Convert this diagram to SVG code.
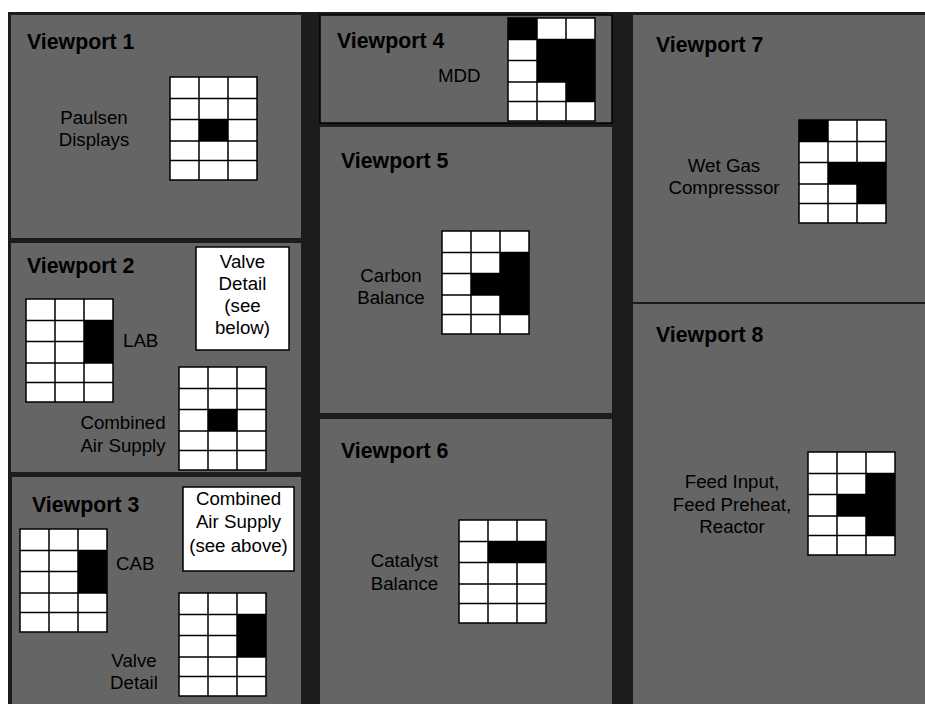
<svg xmlns="http://www.w3.org/2000/svg" xmlns:xlink="http://www.w3.org/1999/xlink" width="925" height="704" viewBox="0 0 925 704">
<style>
.vp{fill:#656565;}
.vp4{fill:#656565;stroke:#000;stroke-width:1.5;}
.t{font-family:"Liberation Sans",Arial,sans-serif;font-size:21.3px;font-weight:bold;fill:#000;}
.b{font-family:"Liberation Sans",Arial,sans-serif;font-size:18.7px;fill:#000;}
.c{text-anchor:middle;}
.cell{fill:#fff;}
.blk{fill:#000;}
.gl{fill:none;stroke:#000;stroke-width:1.5;}
.box{fill:#fff;stroke:#000;stroke-width:1.5;}
</style>
<defs>
<g id="gl">
<rect class="gl" x="0" y="0" width="87" height="103"/>
<path class="gl" d="M29,0V103M58,0V103M0,21.5H87M0,42.5H87M0,64H87M0,83.5H87"/>
</g>
</defs>
<rect x="0" y="0" width="925" height="704" fill="#fff"/>
<rect x="8" y="12" width="917" height="692" fill="#1c1c1c"/>

<g id="viewport1">
<rect class="vp" x="11" y="15" width="290" height="223"/>
<text class="t" x="27" y="49">Viewport 1</text>
<text class="b c" x="94" y="124">Paulsen</text>
<text class="b c" x="94" y="146">Displays</text>
<g transform="translate(170,77)">
<rect class="cell" width="87" height="103"/>
<rect class="blk" x="29" y="42.5" width="29" height="21.5"/>
<use xlink:href="#gl"/>
</g>
</g>

<g id="viewport2">
<rect class="vp" x="11" y="243" width="290" height="229"/>
<text class="t" x="27" y="273">Viewport 2</text>
<rect class="box" x="196" y="247" width="93" height="103"/>
<text class="b c" x="242.5" y="268">Valve</text>
<text class="b c" x="242.5" y="290">Detail</text>
<text class="b c" x="242.5" y="312">(see</text>
<text class="b c" x="242.5" y="334">below)</text>
<g transform="translate(26,299)">
<rect class="cell" width="87" height="103"/>
<rect class="blk" x="58" y="21.5" width="29" height="42.5"/>
<use xlink:href="#gl"/>
</g>
<text class="b" x="123" y="347">LAB</text>
<g transform="translate(179,367)">
<rect class="cell" width="87" height="103"/>
<rect class="blk" x="29" y="42.5" width="29" height="21.5"/>
<use xlink:href="#gl"/>
</g>
<text class="b c" x="123" y="429">Combined</text>
<text class="b c" x="123" y="452">Air Supply</text>
</g>

<g id="viewport3">
<rect class="vp" x="12" y="477" width="289" height="227"/>
<text class="t" x="32" y="512">Viewport 3</text>
<rect class="box" x="183" y="487" width="111" height="84"/>
<text class="b c" x="238.5" y="505">Combined</text>
<text class="b c" x="238.5" y="528">Air Supply</text>
<text class="b c" x="238.5" y="552">(see above)</text>
<g transform="translate(20,529)">
<rect class="cell" width="87" height="103"/>
<rect class="blk" x="58" y="21.5" width="29" height="42.5"/>
<use xlink:href="#gl"/>
</g>
<text class="b" x="116" y="570">CAB</text>
<g transform="translate(179,593)">
<rect class="cell" width="87" height="103"/>
<rect class="blk" x="58" y="21.5" width="29" height="42.5"/>
<use xlink:href="#gl"/>
</g>
<text class="b c" x="134" y="667">Valve</text>
<text class="b c" x="134" y="689">Detail</text>
</g>

<g id="viewport4">
<rect class="vp4" x="320" y="15" width="292" height="108"/>
<text class="t" x="337" y="48">Viewport 4</text>
<text class="b" x="438" y="82">MDD</text>
<g transform="translate(508,18)">
<rect class="cell" width="87" height="103"/>
<rect class="blk" x="0" y="0" width="29" height="21.5"/>
<rect class="blk" x="29" y="21.5" width="58" height="42.5"/>
<rect class="blk" x="58" y="64" width="29" height="19.5"/>
<use xlink:href="#gl"/>
</g>
</g>

<g id="viewport5">
<rect class="vp" x="320" y="127" width="292" height="286"/>
<text class="t" x="341" y="168">Viewport 5</text>
<text class="b c" x="391" y="282">Carbon</text>
<text class="b c" x="391" y="304">Balance</text>
<g transform="translate(442,231)">
<rect class="cell" width="87" height="103"/>
<rect class="blk" x="58" y="21.5" width="29" height="62"/>
<rect class="blk" x="29" y="42.5" width="29" height="21.5"/>
<use xlink:href="#gl"/>
</g>
</g>

<g id="viewport6">
<rect class="vp" x="320" y="419" width="292" height="285"/>
<text class="t" x="341" y="458">Viewport 6</text>
<text class="b c" x="404.5" y="567">Catalyst</text>
<text class="b c" x="404.5" y="590">Balance</text>
<g transform="translate(459,520)">
<rect class="cell" width="87" height="103"/>
<rect class="blk" x="29" y="21.5" width="58" height="21"/>
<use xlink:href="#gl"/>
</g>
</g>

<g id="viewport7">
<rect class="vp" x="633" y="15" width="292" height="287"/>
<text class="t" x="656" y="52">Viewport 7</text>
<text class="b c" x="724" y="172">Wet Gas</text>
<text class="b c" x="724" y="194">Compresssor</text>
<g transform="translate(799,120)">
<rect class="cell" width="87" height="103"/>
<rect class="blk" x="0" y="0" width="29" height="21.5"/>
<rect class="blk" x="29" y="42.5" width="58" height="21.5"/>
<rect class="blk" x="58" y="64" width="29" height="19.5"/>
<use xlink:href="#gl"/>
</g>
</g>

<g id="viewport8">
<rect class="vp" x="633" y="304" width="292" height="400"/>
<text class="t" x="656" y="342">Viewport 8</text>
<text class="b c" x="732" y="488">Feed Input,</text>
<text class="b c" x="732" y="511">Feed Preheat,</text>
<text class="b c" x="732" y="533">Reactor</text>
<g transform="translate(808,452)">
<rect class="cell" width="87" height="103"/>
<rect class="blk" x="58" y="21.5" width="29" height="62"/>
<rect class="blk" x="29" y="42.5" width="29" height="21.5"/>
<use xlink:href="#gl"/>
</g>
</g>

<g id="connectors"></g>
</svg>
